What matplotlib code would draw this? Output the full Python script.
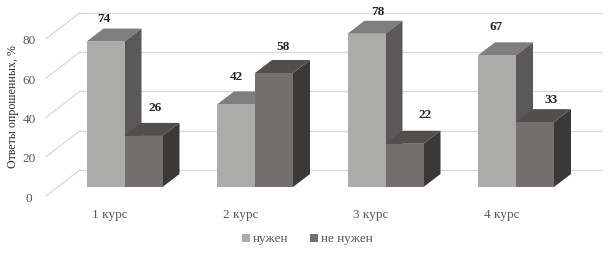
import matplotlib
matplotlib.use("Agg")
import matplotlib.pyplot as plt

plt.rcParams['font.family'] = ['Liberation Serif', 'DejaVu Serif']

# values
courses = ['1 курс', '2 курс', '3 курс', '4 курс']
needed = [74, 42, 78, 67]
not_needed = [26, 58, 22, 33]
yticks = [0, 20, 40, 60, 80]

W, H = 615, 255
PX_PER_CAT = 130.5
PX_PER_UNIT = 1.965
CAT0_PX = 124.5
BASE_PX = 188
BAR_W = 38 / PX_PER_CAT
DX = 17 / PX_PER_CAT      # bar depth
DY = 13 / PX_PER_UNIT

# colours: front, top, side
needed_col = ('#ababaa', '#7f7d7d', '#5a5858')
not_needed_col = ('#736f6e', '#524e4d', '#3a3937')

# label offsets from bar front centre/top, in pixels
needed_off = [(-2, 24), (1, 28), (11, 23), (-1, 29)]
not_needed_off = [(12, 29), (9, 27), (21, 30), (16, 23)]


def bar3d(ax, x, val, cols):
    left, right = x, x + BAR_W
    ax.fill([left, right, right + DX, left + DX], [val, val, val + DY, val + DY],
            color=cols[1], lw=0, zorder=3)
    ax.fill([right, right + DX, right + DX, right], [0, DY, val + DY, val],
            color=cols[2], lw=0, zorder=3)
    ax.bar(x, val, BAR_W, align='edge', color=cols[0], lw=0, zorder=3)


fig = plt.figure(figsize=(W / 100, H / 100), dpi=100)
ax = fig.add_axes([0, 0, 1, 1])
ax.set_xlim(-CAT0_PX / PX_PER_CAT, (W - CAT0_PX) / PX_PER_CAT)
ax.set_ylim(-(H - BASE_PX) / PX_PER_UNIT, BASE_PX / PX_PER_UNIT)
ax.axis('off')

# walls
wall_l = (80 - CAT0_PX) / PX_PER_CAT
wall_r = (602 - CAT0_PX) / PX_PER_CAT
side_l = (46 - CAT0_PX) / PX_PER_CAT
for t in yticks:
    ax.plot([wall_l, wall_r], [t + 8.7, t + 8.7], color='#d9d9d9', lw=0.9, zorder=1)
    ax.plot([side_l, wall_l], [t - 4.6, t + 8.7], color='#d9d9d9', lw=0.9, zorder=1)
    ax.text(side_l - 0.128, t - 5.4, str(t), ha='center', va='center', fontsize=9.5, color='#595959')

for i, course in enumerate(courses):
    bar3d(ax, i - BAR_W, needed[i], needed_col)
    bar3d(ax, i, not_needed[i], not_needed_col)
    ax.annotate(str(needed[i]), (i - BAR_W / 2, needed[i]), xytext=needed_off[i],
                textcoords='offset pixels', ha='center', va='center',
                fontsize=9.5, fontweight='bold', color='#262626', zorder=5)
    ax.annotate(str(not_needed[i]), (i + BAR_W / 2, not_needed[i]), xytext=not_needed_off[i],
                textcoords='offset pixels', ha='center', va='center',
                fontsize=9.5, fontweight='bold', color='#262626', zorder=5)
    ax.text(i - 14.5 / PX_PER_CAT, -13.7, course, ha='center', va='center',
            fontsize=9.5, color='#595959')

fig.text(13 / W, 1 - 107 / H, 'Ответы опрошенных, %', rotation=90, ha='center', va='center',
         fontsize=8.6, color='#262626')

# legend
for sq_x, txt_x, col, txt in [(242, 253, needed_col[0], 'нужен'), (310, 321, not_needed_col[0], 'не нужен')]:
    fig.patches.append(plt.Rectangle((sq_x / W, 1 - 243 / H), 8 / W, 8 / H, color=col, lw=0,
                                     transform=fig.transFigure))
    fig.text(txt_x / W, 1 - 239 / H, txt, ha='left', va='center', fontsize=9.5, color='#595959')

fig.savefig('out.png', dpi=100)
